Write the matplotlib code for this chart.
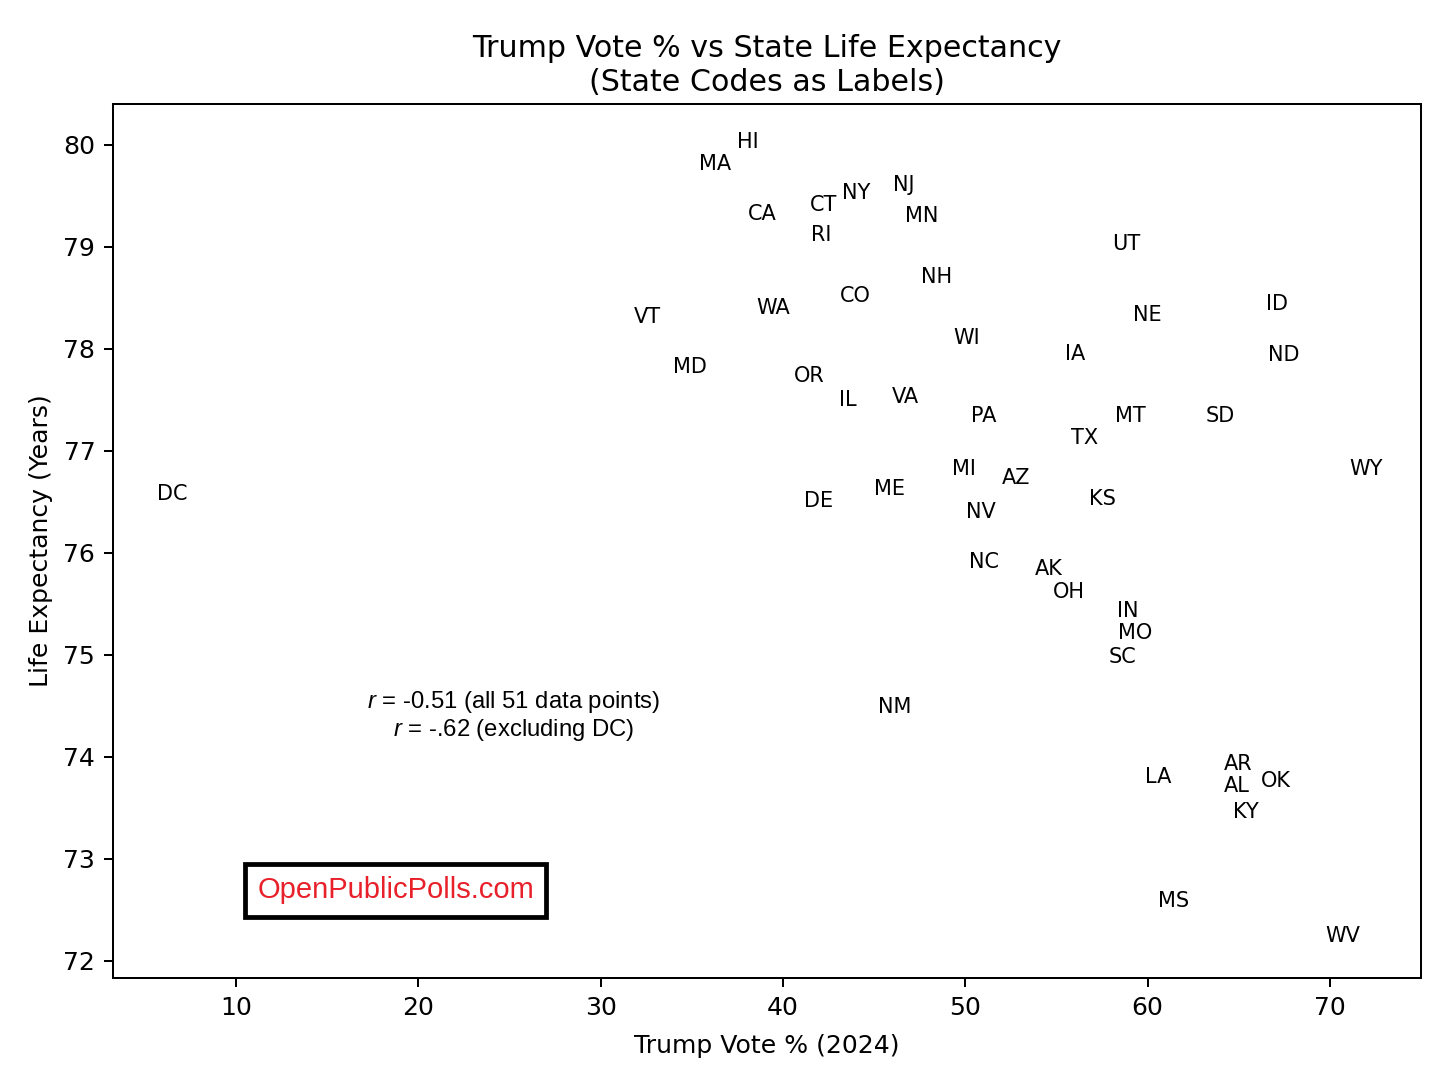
import matplotlib
matplotlib.use("Agg")
import matplotlib.pyplot as plt

plt.rcParams['font.family'] = ['DejaVu Sans']
plt.rcParams['mathtext.fontset'] = 'custom'
plt.rcParams['mathtext.it'] = 'Liberation Sans:italic'
plt.rcParams['mathtext.rm'] = 'Liberation Sans'

states = ["HI", "MA", "CA", "CT", "NY", "RI", "NJ", "MN", "UT", "NH",
          "CO", "ID", "VT", "WA", "NE", "WI", "IA", "ND", "MD", "OR",
          "IL", "VA", "PA", "MT", "SD", "TX", "WY", "MI", "AZ", "DC",
          "ME", "DE", "KS", "NV", "NC", "AK", "OH", "IN", "MO", "SC",
          "NM", "AR", "LA", "OK", "AL", "KY", "MS", "WV"]
trump_pct = [38.09, 36.27, 38.85, 42.25, 44.01, 42.09, 46.64, 47.63, 58.82, 48.45,
             43.95, 67.10, 32.55, 39.46, 59.97, 50.10, 56.02, 67.49, 34.90, 41.43,
             43.57, 46.70, 51.03, 59.04, 63.98, 56.57, 71.99, 49.93, 52.79, 6.49,
             45.87, 41.98, 57.50, 50.87, 51.03, 54.60, 55.69, 58.93, 59.31, 58.60,
             46.15, 64.96, 60.58, 67.05, 64.91, 65.40, 61.40, 70.73]
life_exp = [80.03, 79.81, 79.32, 79.41, 79.53, 79.12, 79.61, 79.30, 79.03, 78.70,
            78.52, 78.44, 78.31, 78.40, 78.33, 78.11, 77.95, 77.94, 77.82, 77.73,
            77.50, 77.53, 77.34, 77.34, 77.34, 77.13, 76.82, 76.82, 76.73, 76.58,
            76.63, 76.51, 76.53, 76.40, 75.91, 75.84, 75.62, 75.43, 75.21, 74.98,
            74.49, 73.93, 73.80, 73.76, 73.71, 73.46, 72.59, 72.24]

x_ticks = [10, 20, 30, 40, 50, 60, 70]
y_ticks = [72, 73, 74, 75, 76, 77, 78, 79, 80]

fig = plt.figure(figsize=(8, 6), dpi=181)
ax = fig.add_axes([0.078, 0.0994, 0.9034, 0.8048])

for s, x, y in zip(states, trump_pct, life_exp):
    ax.text(x, y, s, ha='center', va='center', fontsize=8.3, color='black')

ax.set_xlim(3.25, 75.0)
ax.set_ylim(71.83, 80.40)
ax.set_xticks(x_ticks)
ax.set_yticks(y_ticks)
ax.tick_params(labelsize=10)

ax.set_xlabel("Trump Vote % (2024)", fontsize=10, labelpad=5.6)
ax.set_ylabel("Life Expectancy (Years)", fontsize=10)
ax.set_title("Trump Vote % vs State Life Expectancy\n(State Codes as Labels)", fontsize=12, pad=5.2)

ax.text(25.25, 74.40, "$r$ = -0.51 (all 51 data points)\n$r$ = -.62 (excluding DC)",
        ha='center', va='center', multialignment='center', fontsize=9.5,
        family='Liberation Sans', linespacing=1.1)

ax.text(18.75, 72.69, "OpenPublicPolls.com", ha='center', va='center',
        fontsize=11.6, family='Liberation Sans', color='#e8202a',
        bbox=dict(boxstyle='square,pad=0.42', facecolor='white',
                  edgecolor='black', linewidth=1.9))

fig.savefig("out.png", dpi=181)
